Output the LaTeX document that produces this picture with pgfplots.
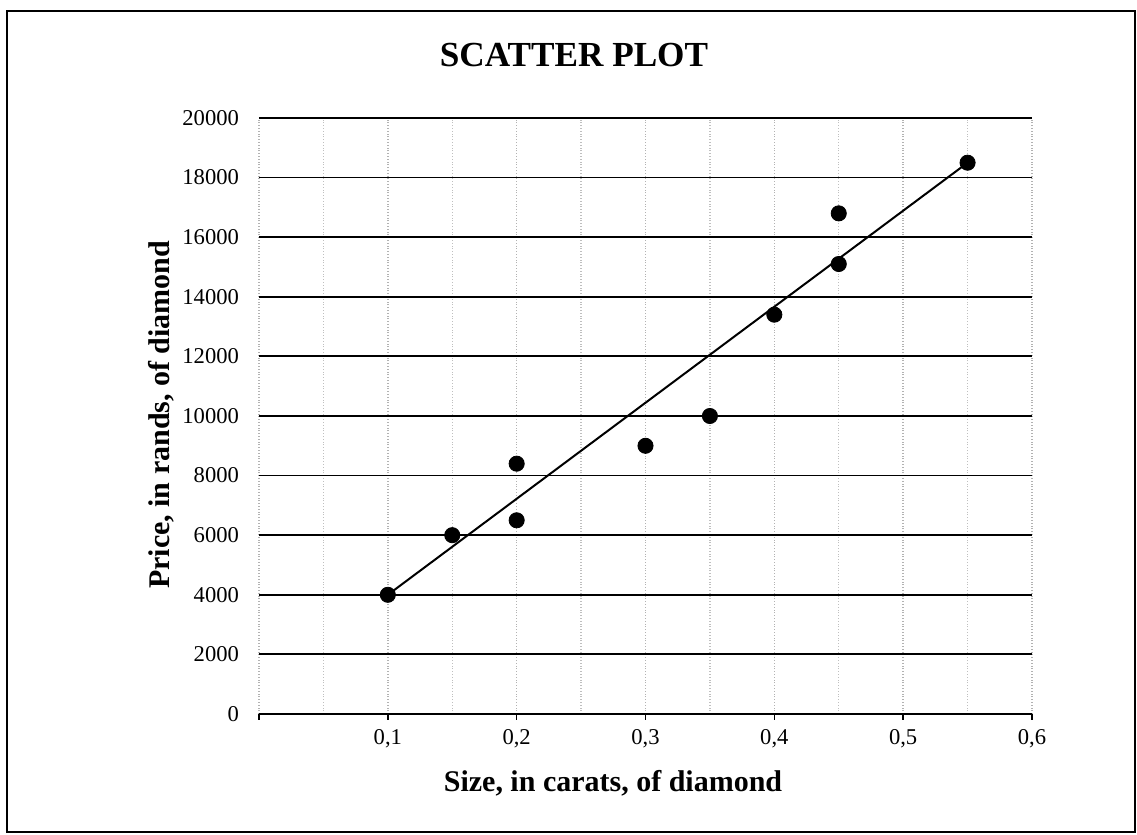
\documentclass[border=0pt]{standalone}
\usepackage{pgfplots}
\pgfplotsset{compat=1.18}
\usepackage{fontspec}
\setmainfont{Liberation Serif}
\begin{document}
\begin{tikzpicture}[x=1pt,y=1pt]
\useasboundingbox (0,0) rectangle (568.5,417.5);
\draw[black,line width=1.2pt] (3.5,1.5) rectangle (567.5,412);
\node[font=\bfseries\fontsize{17.6}{20}\selectfont] at (287,390) {SCATTER PLOT};
\begin{axis}[
  at={(129.5pt,60.5pt)}, anchor=south west,
  scale only axis, width=386.5pt, height=298pt,
  xmin=0, xmax=0.6, ymin=0, ymax=20000,
  axis lines*=left,
  x axis line style={black,line width=0.9pt},
  y axis line style={draw=none},
  xtick={0,0.1,0.2,0.3,0.4,0.5,0.6},
  xticklabels={{},{0,1},{0,2},{0,3},{0,4},{0,5},{0,6}},
  minor xtick={0.05,0.15,0.25,0.35,0.45,0.55},
  ytick={0,2000,...,20000},
  scaled y ticks=false,
  /pgf/number format/fixed,
  /pgf/number format/1000 sep={},
  /pgf/number format/assume math mode=true,
  tick label style={font=\fontsize{11.3}{13}\selectfont},
  tick align=outside,
  major tick length=3pt,
  xtick style={black,line width=0.8pt},
  ytick style={draw=none},
  minor tick style={draw=none},
  xmajorgrids, xminorgrids, ymajorgrids,
  major x grid style={gray!60,densely dotted,line width=0.7pt},
  minor x grid style={gray!50,densely dotted,line width=0.7pt},
  major y grid style={black,line width=0.9pt},
  xticklabel style={yshift=-1pt},
  yticklabel style={xshift=-3.5pt},
  xlabel={Size, in carats, of diamond},
  ylabel={Price, in rands, of diamond},
  label style={font=\bfseries\fontsize{15}{18}\selectfont},
  x label style={at={(axis description cs:0.458,-0.116)},anchor=center},
  y label style={at={(axis description cs:-0.127,0.502)},anchor=center,rotate=0},
  clip=false,
]
\addplot[black,line width=1pt] coordinates {(0.1,4000) (0.55,18500)};
\addplot[only marks,mark=*,mark size=3.8pt,black] coordinates {
(0.1,4000) (0.15,6000) (0.2,8400) (0.2,6500) (0.3,9000)
(0.35,10000) (0.4,13400) (0.45,15100) (0.45,16800) (0.55,18500)};
\end{axis}
\end{tikzpicture}
\end{document}
